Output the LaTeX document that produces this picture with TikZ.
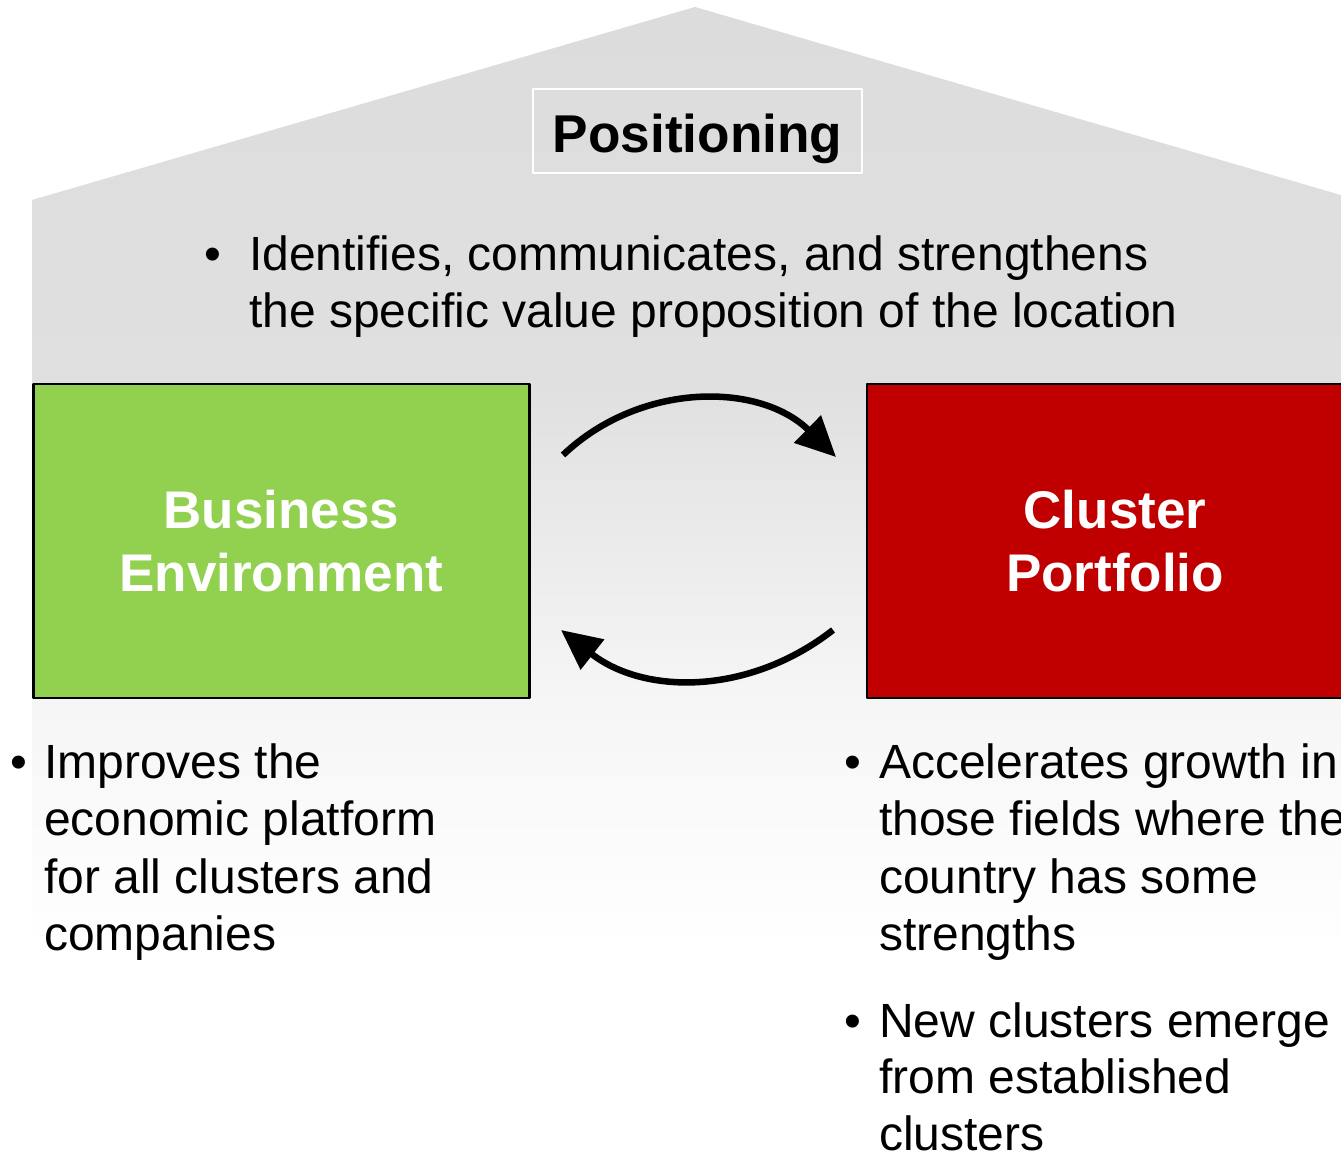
\documentclass[tikz,border=0pt]{standalone}
\usepackage{fontspec}
\setmainfont{Liberation Sans}
\usetikzlibrary{arrows.meta}
\definecolor{envgreen}{HTML}{92D050}
\definecolor{portred}{HTML}{C00000}
\definecolor{roofgray}{HTML}{DCDCDC}
\definecolor{wallgray}{HTML}{E0E0E0}
\definecolor{fadegray}{HTML}{F6F6F6}
\pgfdeclareverticalshading{housefade}{100bp}{color(0bp)=(white); color(25bp)=(white);
  color(38bp)=(fadegray); color(55bp)=(wallgray); color(75bp)=(roofgray); color(100bp)=(roofgray)}
\begin{document}
\begin{tikzpicture}[x=1pt, y=-1pt, line join=round,
    body/.style={font=\fontsize{48}{57.5}\selectfont, inner sep=0pt, anchor=base west},
    panel/.style={draw=black, line width=2.5pt, minimum width=496pt, minimum height=314pt,
      text=white, align=center, font=\fontsize{53}{63}\selectfont\bfseries},
    cyclearrow/.style={line width=6.5pt, -{Triangle[length=40pt, width=37pt]}}]
  \useasboundingbox (0,0) rectangle (1341,1154);
  \clip (0,0) rectangle (1341,1154);
  % house
  \shade[shading=housefade] (32,950) -- (32,200) -- (695,7) -- (1358,200) -- (1358,950) -- cycle;
  \node[draw=white, line width=1.5pt, minimum width=329pt, minimum height=84pt, inner sep=0pt,
    text height=42pt, text depth=0pt, font=\fontsize{53.2}{63}\selectfont\bfseries] (pos) at (697.5,131) {Positioning};
  % top bullet
  \node[body] (topdot) at (204,270) {•};
  \foreach \txt [count=\i] in {{Identifies, communicates, and strengthens},
      {the specific value proposition of the location}}
    \node[body] (top\i) at (249,{270+57.5*(\i-1)}) {\txt};
  % boxes
  \node[panel, fill=envgreen] (env) at (281.25,541) {Business\\Environment};
  \node[panel, fill=portred] (port) at (1115,541) {Cluster\\Portfolio};
  % arrows
  \coordinate (ta) at (563,455); \coordinate (tb) at (836,457);
  \coordinate (ba) at (833,630); \coordinate (bb) at (561,630);
  \draw[cyclearrow] (ta) to[bend left=44] (tb);
  \draw[cyclearrow] (ba) to[bend left=38] (bb);
  % left bullet
  \node[body] (leftdot) at (10,778) {•};
  \foreach \txt [count=\i] in {Improves the, economic platform, for all clusters and, companies}
    \node[body] (left\i) at (44,{778+57.5*(\i-1)}) {\txt};
  % right bullets
  \node[body] (rightdot1) at (844,778) {•};
  \foreach \txt [count=\i] in {Accelerates growth in, those fields where the, country has some, strengths}
    \node[body] (rightA\i) at (879,{778+57.5*(\i-1)}) {\txt};
  \node[body] (rightdot2) at (844,1037) {•};
  \foreach \txt [count=\i] in {New clusters emerge, from established, clusters}
    \node[body] (rightB\i) at (879,{1037+56.5*(\i-1)}) {\txt};
\end{tikzpicture}
\end{document}
